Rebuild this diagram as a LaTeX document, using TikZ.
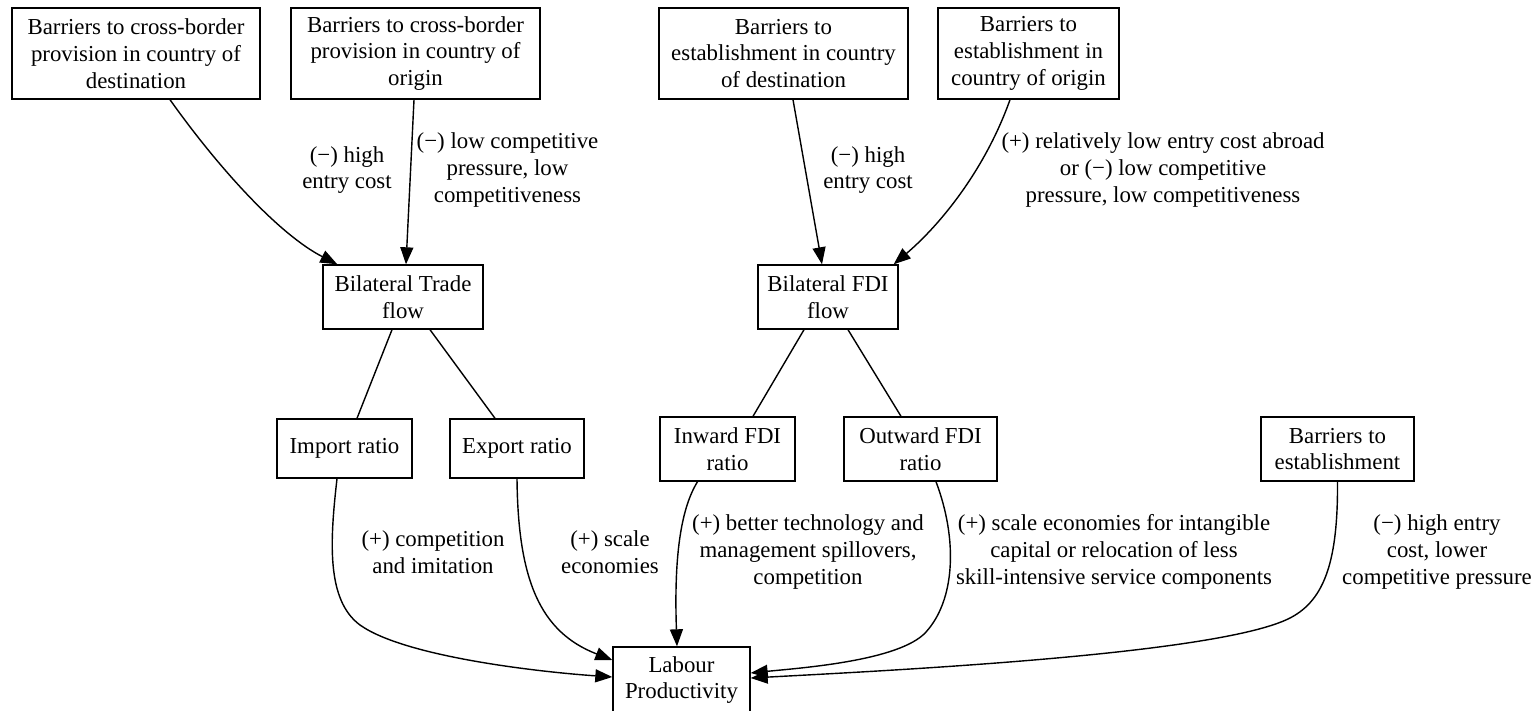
\documentclass[tikz,border=0pt]{standalone}
\usepackage{fontspec}
\setmainfont{Liberation Serif}
\usepackage{tikz}
\usetikzlibrary{arrows.meta, positioning}

\begin{document}
\begin{tikzpicture}[x=0.02cm, y=-0.02cm,
        cbox/.style={rectangle, draw, line width=0.8pt, inner sep=0pt, align=center,
                     font=\fontsize{13}{15.2}\selectfont},
        lbl/.style={align=center, inner sep=0pt, font=\fontsize{13}{15.2}\selectfont},
        arr/.style={-{Triangle[length=0.34cm, width=0.26cm]}, line width=0.8pt},
        lnk/.style={line width=0.8pt},
      ]
        \useasboundingbox (0,0) rectangle (1534,710);

        % top row
        \node[cbox, minimum width=4.96cm, minimum height=1.82cm] (cbdest) at (136,53.5)
          {Barriers to cross-border\\provision in country of\\destination};
        \node[cbox, minimum width=4.98cm, minimum height=1.82cm] (cborig) at (415.5,53.5)
          {Barriers to cross-border\\provision in country of\\origin};
        \node[cbox, minimum width=4.98cm, minimum height=1.82cm] (estdest) at (783.5,53.5)
          {Barriers to\\establishment in country\\of destination};
        \node[cbox, minimum width=3.62cm, minimum height=1.82cm] (estorig) at (1028.5,53.5)
          {Barriers to\\establishment in\\country of origin};

        % flows
        \node[cbox, minimum width=3.2cm, minimum height=1.28cm] (trade) at (403,297)
          {Bilateral Trade\\flow};
        \node[cbox, minimum width=2.8cm, minimum height=1.28cm] (fdi) at (828,297)
          {Bilateral FDI\\flow};

        % ratios
        \node[cbox, minimum width=2.7cm, minimum height=1.18cm] (imp) at (344.5,448.5)
          {Import ratio};
        \node[cbox, minimum width=2.68cm, minimum height=1.18cm] (exp) at (517,448.5)
          {Export ratio};
        \node[cbox, minimum width=2.7cm, minimum height=1.28cm] (inw) at (727.5,449)
          {Inward FDI\\ratio};
        \node[cbox, minimum width=3.06cm, minimum height=1.28cm] (outw) at (920.5,449)
          {Outward FDI\\ratio};
        \node[cbox, minimum width=3.06cm, minimum height=1.28cm] (estab) at (1337.5,449)
          {Barriers to\\establishment};

        \node[cbox, minimum width=2.74cm, minimum height=1.32cm] (lab) at (681.5,680)
          {Labour\\Productivity};

        % edge labels
        \node[lbl] (l1) at (347,170) {(−) high\\entry cost};
        \node[lbl] (l2) at (507.5,170) {(−) low competitive\\pressure, low\\competitiveness};
        \node[lbl] (l3) at (868,170) {(−) high\\entry cost};
        \node[lbl] (l4) at (1163,170) {(+) relatively low entry cost abroad\\or (−) low competitive\\pressure, low competitiveness};
        \node[lbl] (l5) at (433,552) {(+) competition\\and imitation};
        \node[lbl] (l6) at (610,552) {(+) scale\\economies};
        \node[lbl] (l7) at (808,552) {(+) better technology and\\management spillovers,\\competition};
        \node[lbl] (l8) at (1114,552) {(+) scale economies for intangible\\capital or relocation of less\\skill-intensive service components};
        \node[lbl] (l9) at (1437,552) {(−) high entry\\cost, lower\\competitive pressure};

        % barriers -> flows
        \draw[arr] ([xshift=0.68cm]cbdest.south) .. controls (220,170) and (280,235) .. ([xshift=0.3cm]trade.north west);
        \draw[arr] ([xshift=-0.03cm]cborig.south) -- ([xshift=0.06cm]trade.north);
        \draw[arr] ([xshift=0.19cm]estdest.south) -- ([xshift=-0.12cm]fdi.north);
        \draw[arr] ([xshift=-0.37cm]estorig.south) .. controls (985,170) and (940,225) .. ([xshift=-0.1cm]fdi.north east);

        % flows -- ratios
        \draw[lnk] ([xshift=-0.22cm]trade.south) -- ([xshift=0.25cm]imp.north);
        \draw[lnk] ([xshift=0.54cm]trade.south) -- ([xshift=-0.44cm]exp.north);
        \draw[lnk] ([xshift=-0.48cm]fdi.south) -- ([xshift=0.51cm]inw.north);
        \draw[lnk] ([xshift=0.4cm]fdi.south) -- ([xshift=-0.39cm]outw.north);

        % ratios -> productivity
        \draw[arr] ([xshift=-0.15cm]imp.south) .. controls (330,540) and (326,600) .. (360,625)
          .. controls (405,657) and (540,672) .. ([yshift=0.06cm]lab.west);
        \draw[arr] (exp.south) .. controls (518,580) and (540,632) .. ([yshift=0.4cm]lab.west);
        \draw[arr] ([xshift=-0.6cm]inw.south) .. controls (680,510) and (674,560) .. ([xshift=-0.09cm]lab.north);
        \draw[arr] ([xshift=0.31cm]outw.south) .. controls (958,540) and (955,600) .. (926,632)
          .. controls (900,661) and (800,668) .. ([yshift=0.14cm]lab.east);
        \draw[arr] (estab.south) .. controls (1338,560) and (1325,600) .. (1290,618)
          .. controls (1220,654) and (900,670) .. ([yshift=0.04cm]lab.east);
      \end{tikzpicture}
\end{document}
